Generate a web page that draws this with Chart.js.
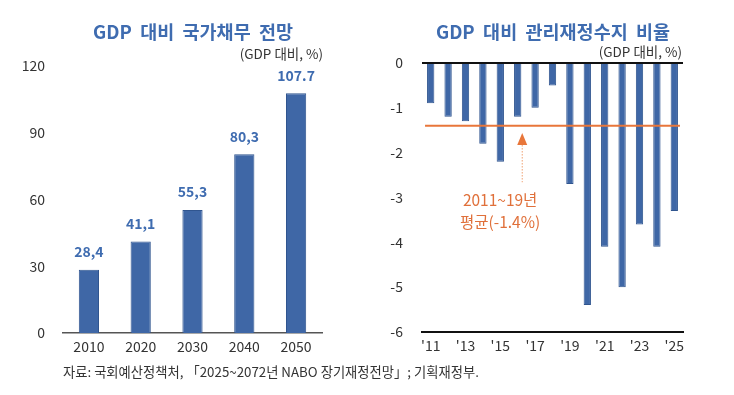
<!DOCTYPE html>
<html><head><meta charset="utf-8">
<script src="https://cdn.jsdelivr.net/npm/chart.js@4"></script>
<style>
html,body{margin:0;padding:0;background:#fff;width:734px;height:395px;overflow:hidden;}
canvas{position:absolute;top:0;}
#c1{left:0;} #c2{left:367px;}
#src{position:absolute;left:63px;top:362px;font:13.3px 'Noto Sans CJK KR',sans-serif;color:#333;white-space:nowrap;}
</style></head>
<body>
<canvas id="c1" width="367" height="395"></canvas>
<canvas id="c2" width="367" height="395"></canvas>
<div id="src">자료: 국회예산정책처, 「2025~2072년 NABO 장기재정전망」; 기획재정부.</div>
<script>
// ---- data ----
const debtYears = ['2010','2020','2030','2040','2050'];
const debtValues = [28.4, 41.1, 55.3, 80.3, 107.7];
const debtLabels = ['28,4','41,1','55,3','80,3','107.7'];
const balanceYears = ['2011','2012','2013','2014','2015','2016','2017','2018','2019','2020','2021','2022','2023','2024','2025'];
const balanceTickLabels = ["'11","","'13","","'15","","'17","","'19","","'21","","'23","","'25"];
const balanceValues = [-0.9, -1.2, -1.3, -1.8, -2.2, -1.2, -1.0, -0.5, -2.7, -5.4, -4.1, -5.0, -3.6, -4.1, -3.3];
const balanceAvg = -1.4;
const leftTitle = 'GDP  대비  국가채무  전망';
const rightTitle = 'GDP  대비  관리재정수지  비율';
const unitText = '(GDP 대비, %)';
const avgText1 = '2011~19년';
const avgText2 = '평균(-1.4%)';

const FONT = "'Noto Sans CJK KR','Noto Sans',sans-serif";
Chart.defaults.font.family = FONT;
Chart.defaults.color = '#333';
const BAR = '#3f67a6', BAR_EDGE = '#30558f', BLUE_TXT = '#3f6cb0', ORANGE = '#e8763a';

function headerPlugin(title, titleX, unitRight, unitY){
  return {id:'hdr', afterDraw(chart){
    const c = chart.ctx; c.save();
    c.font = 'bold 18.5px ' + FONT; c.fillStyle = BLUE_TXT; c.textAlign='center'; c.textBaseline='middle';
    c.fillText(title, titleX, 32);
    c.font = '13.5px ' + FONT; c.fillStyle = '#333'; c.textAlign='right';
    c.fillText(unitText, unitRight, unitY);
    c.restore();
  }};
}

// ---- left chart ----
new Chart(document.getElementById('c1'), {
  type:'bar',
  data:{labels:debtYears, datasets:[{data:debtValues, backgroundColor:BAR, borderColor:BAR_EDGE, borderWidth:1, barPercentage:0.39, categoryPercentage:1}]},
  options:{
    responsive:false, animation:false, devicePixelRatio:1,
    layout:{padding:{left:0,right:45,top:66,bottom:0}},
    plugins:{legend:{display:false}, tooltip:{enabled:false}},
    scales:{
      x:{grid:{display:false, drawTicks:false}, border:{display:true,color:'#555',width:1.5},
         ticks:{font:{size:14}, color:'#333', padding:5}, afterFit(s){s.height=62;}},
      y:{min:0,max:120, grid:{display:false, drawTicks:false}, border:{display:false},
         ticks:{stepSize:30, font:{size:14}, color:'#333', padding:18}, afterFit(s){s.width=63;}}
    }
  },
  plugins:[headerPlugin(leftTitle, 193, 323, 54), {id:'vals', afterDatasetsDraw(chart){
    const c=chart.ctx, meta=chart.getDatasetMeta(0); c.save();
    c.font='bold 14px '+FONT; c.fillStyle=BLUE_TXT; c.textAlign='center'; c.textBaseline='middle';
    meta.data.forEach((b,i)=>c.fillText(debtLabels[i], b.x, b.y-18));
    c.restore();
  }}]
});

// ---- right chart ----
new Chart(document.getElementById('c2'), {
  type:'bar',
  data:{labels:balanceYears, datasets:[{data:balanceValues, backgroundColor:BAR, borderColor:BAR_EDGE, borderWidth:1, barPercentage:0.42, categoryPercentage:1}]},
  options:{
    responsive:false, animation:false, devicePixelRatio:1,
    layout:{padding:{left:0,right:51,top:63,bottom:0}},
    plugins:{legend:{display:false}, tooltip:{enabled:false}},
    scales:{
      x:{grid:{display:false, drawTicks:false}, border:{display:true,color:'#111',width:2},
         ticks:{font:{size:14}, color:'#333', padding:5, autoSkip:false, maxRotation:0,
                callback:(v,i)=>balanceTickLabels[i]}, afterFit(s){s.height=63;}},
      y:{min:-6,max:0, border:{display:false},
         grid:{drawTicks:false, color:ctx=>ctx.tick && ctx.tick.value===0?'#111':'rgba(0,0,0,0)', lineWidth:2},
         ticks:{stepSize:1, font:{size:14}, color:'#333', padding:19}, afterFit(s){s.width=55;}}
    }
  },
  plugins:[headerPlugin(rightTitle, 186, 315, 52), {id:'avg', afterDatasetsDraw(chart){
    const c=chart.ctx, meta=chart.getDatasetMeta(0), ys=chart.scales.y, xs=chart.scales.x;
    const first=meta.data[0], last=meta.data[meta.data.length-1];
    const y=ys.getPixelForValue(balanceAvg);
    c.save();
    c.strokeStyle=ORANGE; c.lineWidth=2;
    c.beginPath(); c.moveTo(first.x-first.width/2-2,y); c.lineTo(last.x+last.width/2+2,y); c.stroke();
    // arrow
    const ax=xs.getPixelForValue(5.26);
    const tipY=ys.getPixelForValue(-1.56), headB=ys.getPixelForValue(-1.83), tailY=ys.getPixelForValue(-2.66);
    c.strokeStyle='#f0a070'; c.lineWidth=1; c.setLineDash([1.5,1.5]);
    c.beginPath(); c.moveTo(ax,headB); c.lineTo(ax,tailY); c.stroke();
    c.setLineDash([]); c.fillStyle=ORANGE;
    c.beginPath(); c.moveTo(ax,tipY); c.lineTo(ax-5,headB); c.lineTo(ax+5,headB); c.closePath(); c.fill();
    // text
    const tx=xs.getPixelForValue(3.99);
    c.font='15.5px '+FONT; c.fillStyle='#e0703a'; c.textAlign='center'; c.textBaseline='middle';
    c.fillText(avgText1, tx, ys.getPixelForValue(-3.06));
    c.fillText(avgText2, tx, ys.getPixelForValue(-3.55));
    c.restore();
  }}]
});
</script>
</body></html>
